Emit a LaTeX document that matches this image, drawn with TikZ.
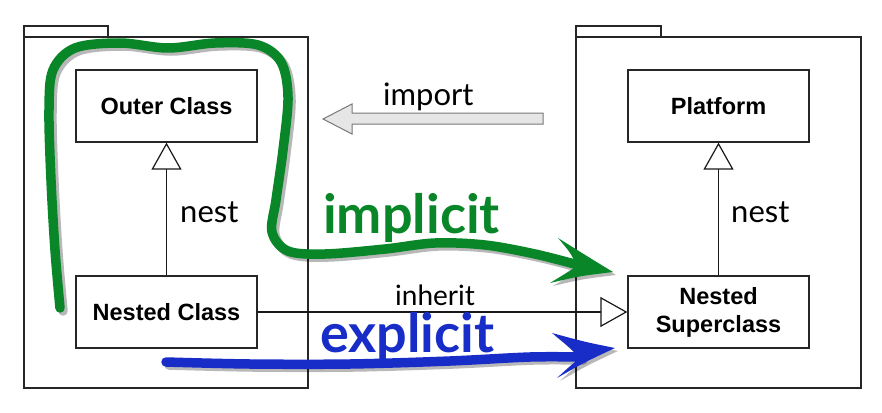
\documentclass[tikz,border=0pt]{standalone}
\usepackage{fontspec}
\usetikzlibrary{arrows.meta}
\newfontfamily\gillf{Lato}
\newfontfamily\helvf{Liberation Sans}
\definecolor{implgreen}{RGB}{8,134,40}
\definecolor{explblue}{RGB}{24,44,200}
\definecolor{importfill}{RGB}{230,230,230}
\definecolor{importline}{RGB}{120,120,120}
\begin{document}
\begin{tikzpicture}[x=1pt,y=-1pt,
  pkg/.style={draw=black!85,line width=1.3pt},
  cls/.style={draw=black!85,line width=1.3pt,minimum width=181pt,minimum height=72pt,inner sep=0pt,
    font=\helvf\bfseries\fontsize{23.5}{28}\selectfont,align=center},
  conn/.style={draw=black!90,line width=1.2pt},
  opentri/.style={-{Triangle[open,length=27pt,width=30pt,line width=1.2pt]}},
  lbl/.style={font=\gillf\fontsize{31}{34}\selectfont,inner sep=0pt},
  biglbl/.style={font=\gillf\bfseries\fontsize{54}{60}\selectfont,inner sep=0pt},
  shadow/.style={black,opacity=0.28}
]
\useasboundingbox[fill=white] (0,0) rectangle (882,412);
% packages
\draw[pkg] (24,26) rectangle (108,37);
\draw[pkg] (24,37) rectangle (308,388);
\draw[pkg] (576,26) rectangle (661,37);
\draw[pkg] (576,37) rectangle (861,388);
% classes
\node[cls] (outer) at (166.5,106) {Outer Class};
\node[cls] (nested) at (166.5,312) {Nested Class};
\node[cls] (platform) at (718.5,106) {Platform};
\node[cls] (nsuper) at (718.5,312) {Nested\\Superclass};
% connectors
\draw[conn,opentri] (nested.north) -- (outer.south);
\draw[conn,opentri] (nsuper.north) -- (platform.south);
\draw[conn,opentri] (nested.east) -- (nsuper.west);
% labels
\node[lbl,anchor=base west] (nestL) at (180,222) {nest};
\node[lbl,anchor=base west] (nestR) at (731,222) {nest};
\node[lbl,anchor=base west] (importL) at (383,105) {import};
\node[lbl,anchor=base west,font=\gillf\fontsize{28}{30}\selectfont] (inheritL) at (395,305) {inherit};
% import block arrow
\draw[importline,fill=importfill,line width=1pt,line join=miter]
  (543,113) -- (543,124) -- (352,124) -- (352,134) -- (323,119) -- (352,104) -- (352,113) -- cycle;
% green implicit curve
\def\greenpath{plot[smooth,tension=0.55] coordinates {(60,308) (55,250) (51,180) (49,110) (53,70) (75,48) (120,43) (168,48) (215,43) (258,45) (281,62) (288,97) (283,150) (276,200) (272,232) (288,251) (325,254) (385,249) (435,243) (485,245) (535,254) (578,265)}}
\def\greenhead{(613,272) .. controls (590,258) .. (558,238) .. controls (570,252) .. (577,266) .. controls (568,272) .. (550,283) .. controls (580,276) .. (613,272) -- cycle}
\begin{scope}[shift={(3,3)}]
  \draw[shadow,line width=9.5pt,line cap=round] \greenpath;
  \fill[shadow] \greenhead;
\end{scope}
\draw[implgreen,line width=9.5pt,line cap=round,line join=round] \greenpath;
\fill[implgreen] \greenhead;
% blue explicit curve
\def\bluepath{plot[smooth,tension=0.55] coordinates {(166,362) (250,364) (350,364) (450,361) (530,357) (580,357)}}
\def\bluehead{(615,348) .. controls (585,342) .. (552,333) .. controls (568,346) .. (580,358) .. controls (570,366) .. (557,378) .. controls (585,362) .. (615,348) -- cycle}
\begin{scope}[shift={(3,3)}]
  \draw[shadow,line width=9.5pt,line cap=round] \bluepath;
  \fill[shadow] \bluehead;
\end{scope}
\draw[explblue,line width=9.5pt,line cap=round] \bluepath;
\fill[explblue] \bluehead;
% big labels
\node[biglbl,anchor=base west,text=implgreen] (implL) at (323,233) {implicit};
\node[biglbl,anchor=base west,text=explblue] (explL) at (320,352) {explicit};
\end{tikzpicture}
\end{document}
